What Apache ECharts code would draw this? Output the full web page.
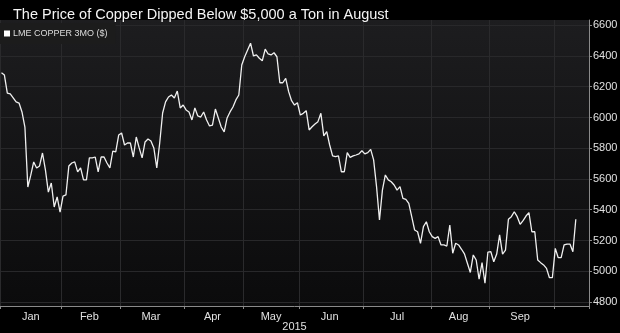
<!DOCTYPE html>
<html><head><meta charset="utf-8">
<script src="https://cdn.jsdelivr.net/npm/echarts@6/dist/echarts.min.js"></script>
<style>html,body{margin:0;padding:0;background:#000}#c{width:620px;height:333px}</style>
</head><body><div id="c"></div>
<script>
// ---- data (LME copper 3M, $/t, trading days 2015) ----
const monthNames = ['Jan','Feb','Mar','Apr','May','Jun','Jul','Aug','Sep','Oct'];
const labeledMonths = 9; // Jan..Sep carry a label
const jan = [6291,6276,6159,6153,6127,6101,6094,6036,5938,5548,5625,5711,5672,5685,5769,5659,5515,5574,5418,5483,5385];
const feb = [5489,5496,5685,5704,5711,5646,5672,5594,5594,5737,5737,5743,5646,5743,5743,5704,5672,5782,5776,5886];
const mar = [5899,5821,5834,5834,5743,5873,5802,5737,5841,5860,5847,5802,5672,5834,6029,6101,6133,6146,6127,6172,6062,6081];
const apr = [6049,6036,5984,6062,6010,6003,6036,5984,5945,5951,6055,5997,5938,5906,5997,6036,6068,6114,6146,6341];
const may = [6395,6439,6483,6400,6407,6385,6369,6444,6413,6407,6421,6395,6226,6226,6255,6168,6109,6081,6096];
const jun = [6016,6027,6044,5919,5940,5958,5973,6027,5880,5908,5821,5750,5745,5750,5647,5647,5771,5741,5750,5756,5763,5784];
const jul = [5763,5771,5793,5724,5550,5333,5528,5626,5594,5582,5561,5528,5550,5474,5468,5442,5355,5268,5257,5182,5290,5322,5257];
const aug = [5225,5214,5225,5171,5171,5164,5301,5117,5182,5171,5143,5113,5052,4992,5106,5073,4948,5056,4922,5125];
const sep = [5127,5062,5112,5236,5112,5138,5338,5355,5387,5355,5305,5329,5359,5381,5257,5257,5073,5056,5041,5019,4958,4958];
const oct = [5149,5088,5088,5171,5177,5177,5127,5338];
const yTicks = [4800,5000,5200,5400,5600,5800,6000,6200,6400,6600];
const seriesName = 'LME COPPER 3MO ($)';
const titleText = 'The Price of Copper Dipped Below $5,000 a Ton in August';
const yearLabel = '2015';

// ---- build category axis ----
const months = [jan,feb,mar,apr,may,jun,jul,aug,sep,oct];
const categories = [], values = [], monthStart = new Set(), labelIdx = new Set();
months.forEach((arr, m) => {
  monthStart.add(categories.length);
  if (m < labeledMonths) labelIdx.add(categories.length + Math.floor((arr.length - 1) / 2));
  arr.forEach((v, d) => { categories.push(monthNames[m] + ' ' + (d + 1)); values.push(v); });
});
for (let k = 0; k < 4; k++) categories.push('pad' + k);

const FONT = '"Liberation Sans", Arial, sans-serif';
const chart = echarts.init(document.getElementById('c'), null, {renderer: 'canvas'});
chart.setOption({
  animation: false,
  backgroundColor: '#000',
  title: {text: titleText, left: 8, top: 2,
    textStyle: {color: '#f4f4f4', fontSize: 14.5, fontWeight: 'normal', fontFamily: FONT}},
  legend: {data: [seriesName], left: 0, top: 23, icon: 'rect', itemWidth: 6, itemHeight: 6, itemGap: 4,
    padding: [6, 8, 6, 4], backgroundColor: '#1c1c1c',
    textStyle: {color: '#dcdcdc', fontSize: 9, fontFamily: FONT, padding: [0, 0, 0, -2]}},
  grid: {left: 0, right: 31, top: 20, bottom: 27, show: true, borderWidth: 0,
    outerBoundsMode: 'none', containLabel: false,
    backgroundColor: {type: 'linear', x: 0, y: 0, x2: 0, y2: 1,
      colorStops: [{offset: 0, color: '#1d1d1f'}, {offset: 1, color: '#0b0b0c'}]}},
  xAxis: {
    type: 'category', data: categories, boundaryGap: true,
    name: yearLabel, nameLocation: 'middle', nameGap: 15, nameMoveOverlap: false,
    nameTextStyle: {color: '#e0e0e0', fontSize: 11, fontFamily: FONT},
    axisLine: {show: true, lineStyle: {color: '#8a8a8a'}},
    axisTick: {show: true, length: 3, interval: (i) => monthStart.has(i), lineStyle: {color: '#8a8a8a'}},
    axisLabel: {interval: (i) => labelIdx.has(i), formatter: (v) => v.split(' ')[0],
      color: '#e0e0e0', fontSize: 11, fontFamily: FONT, margin: 5},
    splitLine: {show: true, interval: (i) => monthStart.has(i), lineStyle: {color: '#2a2a2c', width: 1}}
  },
  yAxis: {
    type: 'value', position: 'right', min: 4774, max: 6634, splitNumber: 9,
    axisLine: {show: true, lineStyle: {color: '#8a8a8a'}},
    axisTick: {show: true, length: 3, customValues: yTicks, lineStyle: {color: '#8a8a8a'}},
    axisLabel: {customValues: yTicks, formatter: (v) => String(v), color: '#e0e0e0', fontSize: 11, fontFamily: FONT, margin: 4},
    splitLine: {show: true, lineStyle: {color: '#28282a', width: 1}}
  },
  series: [{
    name: seriesName, type: 'line', data: values, symbol: 'none', smooth: false,
    itemStyle: {color: '#ffffff'},
    lineStyle: {color: '#f0f0f0', width: 1.3}
  }]
});
</script></body></html>
